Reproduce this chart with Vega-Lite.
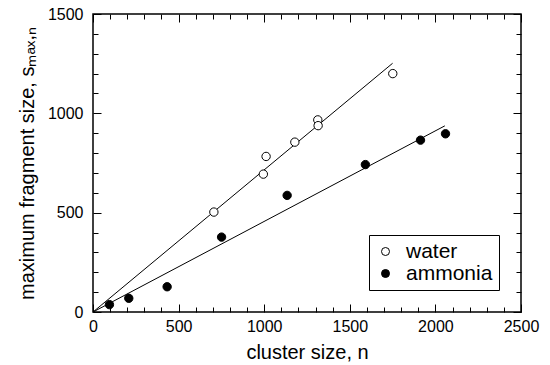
{
  "$schema": "https://vega.github.io/schema/vega-lite/v6.json",
  "width": 428,
  "height": 298,
  "autosize": "none",
  "padding": {"left": 93, "top": 14, "right": 29, "bottom": 53},
  "config": {
    "font": "Liberation Sans",
    "view": {"stroke": "black", "strokeWidth": 1.5},
    "axis": {"labelColor": "black", "titleColor": "black", "tickColor": "black", "labelFontSize": 16, "titleFontSize": 20, "titleFontWeight": "normal", "labelFont": "Liberation Sans", "titleFont": "Liberation Sans", "domain": false, "grid": false, "labelFlush": false, "labelOverlap": false, "tickWidth": 1}
  },
  "datasets": {
    "points": [
      {"series": "water", "n": 706, "s": 503},
      {"series": "water", "n": 995, "s": 694},
      {"series": "water", "n": 1011, "s": 783},
      {"series": "water", "n": 1179, "s": 855},
      {"series": "water", "n": 1313, "s": 967},
      {"series": "water", "n": 1315, "s": 938},
      {"series": "water", "n": 1751, "s": 1200},
      {"series": "ammonia", "n": 96, "s": 37},
      {"series": "ammonia", "n": 209, "s": 69},
      {"series": "ammonia", "n": 433, "s": 127},
      {"series": "ammonia", "n": 751, "s": 377},
      {"series": "ammonia", "n": 1134, "s": 587},
      {"series": "ammonia", "n": 1591, "s": 742},
      {"series": "ammonia", "n": 1913, "s": 865},
      {"series": "ammonia", "n": 2059, "s": 897}
    ],
    "fits": [
      {"series": "water", "n": 0, "s": 0},
      {"series": "water", "n": 1750, "s": 1252},
      {"series": "ammonia", "n": 0, "s": 0},
      {"series": "ammonia", "n": 2055, "s": 937}
    ]
  },
  "layer": [
    {
      "data": {"name": "fits"},
      "mark": {"type": "line", "color": "black", "strokeWidth": 1},
      "encoding": {
        "x": {"field": "n", "type": "quantitative", "scale": {"domain": [0, 2500], "nice": false},
          "axis": {"orient": "bottom", "title": "cluster size, n", "values": [0,500,1000,1500,2000,2500], "format": "d",
            "tickSize": -8, "labelPadding": 14, "titlePadding": 8}},
        "y": {"field": "s", "type": "quantitative", "scale": {"domain": [0, 1500], "nice": false},
          "axis": {"orient": "left", "title": "maximum fragment size, sₘₐₓ,ₙ", "values": [0,500,1000,1500], "format": "d",
            "tickSize": -8, "labelPadding": 18, "titlePadding": 10}},
        "detail": {"field": "series", "type": "nominal"}
      }
    },
    {
      "data": {"name": "points"},
      "mark": {"type": "point", "shape": "circle", "filled": true, "stroke": "black", "strokeWidth": 1, "opacity": 1, "size": 70},
      "encoding": {
        "x": {"field": "n", "type": "quantitative",
          "axis": {"orient": "bottom", "title": null, "labels": false, "values": [100,200,300,400,600,700,800,900,1100,1200,1300,1400,1600,1700,1800,1900,2100,2200,2300,2400], "tickSize": -5}},
        "y": {"field": "s", "type": "quantitative",
          "axis": {"orient": "left", "title": null, "labels": false, "values": [100,200,300,400,600,700,800,900,1100,1200,1300,1400], "tickSize": -5}},
        "fill": {"field": "series", "type": "nominal", "scale": {"domain": ["water", "ammonia"], "range": ["white", "black"]},
          "legend": {"title": null, "orient": "bottom-right", "offset": 22, "strokeColor": "black", "fillColor": "white", "padding": 6, "labelFontSize": 21, "labelFont": "Liberation Sans", "labelColor": "black", "symbolSize": 64, "symbolStrokeColor": "black", "symbolStrokeWidth": 1, "symbolType": "circle", "symbolOpacity": 1, "labelOffset": 10, "rowPadding": 0}}
      }
    },
    {
      "data": {"name": "points"},
      "mark": {"type": "point", "opacity": 0},
      "encoding": {
        "x": {"field": "n", "type": "quantitative",
          "axis": {"orient": "top", "title": null, "labels": false, "values": [0,500,1000,1500,2000,2500], "tickSize": -8}},
        "y": {"field": "s", "type": "quantitative",
          "axis": {"orient": "right", "title": null, "labels": false, "values": [0,500,1000,1500], "tickSize": -8}}
      }
    },
    {
      "data": {"name": "points"},
      "mark": {"type": "point", "opacity": 0},
      "encoding": {
        "x": {"field": "n", "type": "quantitative",
          "axis": {"orient": "top", "title": null, "labels": false, "values": [100,200,300,400,600,700,800,900,1100,1200,1300,1400,1600,1700,1800,1900,2100,2200,2300,2400], "tickSize": -5}},
        "y": {"field": "s", "type": "quantitative",
          "axis": {"orient": "right", "title": null, "labels": false, "values": [100,200,300,400,600,700,800,900,1100,1200,1300,1400], "tickSize": -5}}
      }
    }
  ],
  "resolve": {"axis": {"x": "independent", "y": "independent"}}
}
